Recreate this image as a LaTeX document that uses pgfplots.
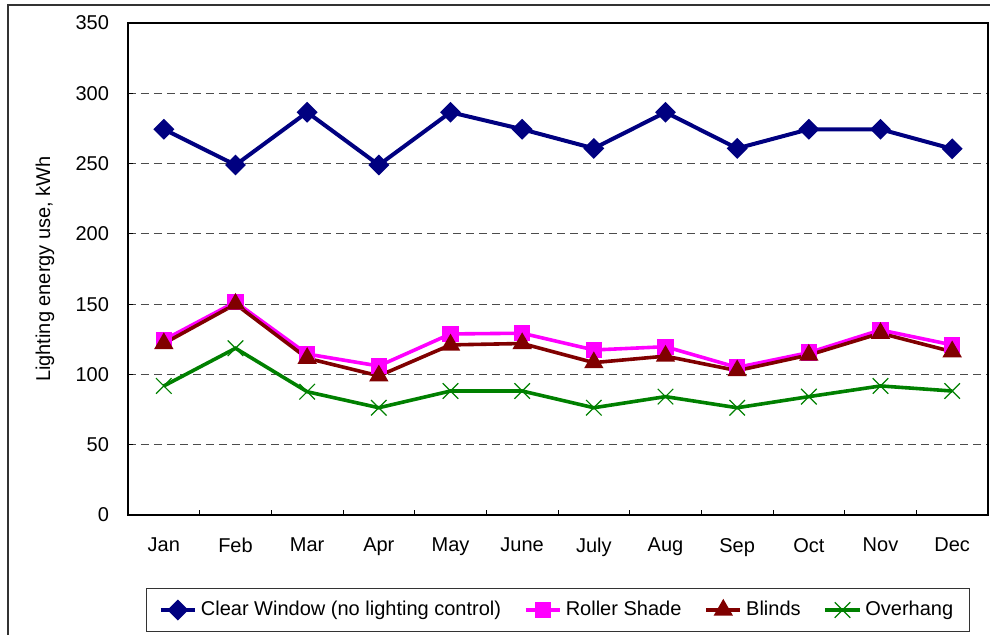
\documentclass[border=0pt]{standalone}
\usepackage{fontspec}
\setmainfont{Liberation Sans}
\usepackage{pgfplots}
\pgfplotsset{compat=1.18}
\definecolor{cwblue}{RGB}{0,0,128}
\definecolor{rsmag}{RGB}{255,0,255}
\definecolor{bldred}{RGB}{128,0,0}
\definecolor{ohgreen}{RGB}{0,128,0}
\begin{document}
\begin{tikzpicture}
\fontsize{10}{12}\selectfont
% outer chart frame (only left and top edges are inside the picture)
\useasboundingbox (-64pt,-60pt) rectangle (431pt,257.5pt);
\draw[black!80, line width=0.6pt] (-60pt,-61pt) -- (-60pt,255pt) -- (432pt,255pt);
\begin{axis}[at={(0,0)}, anchor=south west, scale only axis,
  width=430pt, height=246pt,
  xmin=-0.5, xmax=11.5, ymin=0, ymax=350,
  xtick={0,...,11},
  xticklabels={Jan,Feb,Mar,Apr,May,June,July,Aug,Sep,Oct,Nov,Dec},
  minor xtick={-0.5,0.5,...,11.5},
  major x tick style={draw=none},
  minor x tick style={black, line width=0.5pt},
  minor tick length=2.5pt,
  ytick={0,50,...,350},
  tick align=inside, major tick length=2.5pt,
  xtick pos=bottom, ytick pos=left,
  ymajorgrids, grid style={black!70, dash pattern=on 4pt off 2.5pt, line width=0.5pt},
  axis line style={line width=0.7pt},
  tick style={black, line width=0.5pt},
  /pgf/number format/assume math mode=true,
  tick label style={font=\fontsize{10}{12}\selectfont},
  yticklabel style={xshift=-6pt},
  xticklabel style={yshift=-8pt},
  ylabel={Lighting energy use, kWh},
  ylabel style={at={(axis description cs:-0.0965,0.5)}, anchor=center, font=\fontsize{10}{12}\selectfont},
  legend columns=4,
  legend style={at={(0.5,-0.148)}, anchor=north, draw=black!80, line width=0.5pt,
    font=\fontsize{10}{12}\selectfont, inner xsep=6pt, inner ysep=4.5pt,
    /tikz/every even column/.append style={column sep=9.5pt}},
  legend cell align=left,
  legend image post style={sharp plot},
]
\addplot[cwblue, line width=2pt, mark=square*, mark size=2.7pt,
  mark options={rotate=45, solid}] coordinates {
(0,274.4) (1,249) (2,286.5) (3,249) (4,286.5) (5,274.4)
(6,260.8) (7,286.5) (8,260.8) (9,274.4) (10,274.4) (11,260.5)};
\addlegendentry{Clear Window (no lighting control)}
\addplot[rsmag, line width=1.8pt, mark=square*, mark size=3.2pt] coordinates {
(0,124.5) (1,151.5) (2,114.5) (3,106) (4,128.8) (5,129.3)
(6,117.4) (7,119.7) (8,105) (9,115.5) (10,131.6) (11,121)};
\addlegendentry{Roller Shade}
\addplot[bldred, line width=1.8pt, mark=triangle*, mark size=3.8pt] coordinates {
(0,122) (1,150) (2,111.5) (3,99) (4,121) (5,122)
(6,108.4) (7,113) (8,102.7) (9,113.8) (10,129.3) (11,116.2)};
\addlegendentry{Blinds}
\addplot[ohgreen, line width=1.8pt, mark=x, mark size=5.5pt,
  mark options={line width=0.6pt}] coordinates {
(0,91.8) (1,118.6) (2,87.7) (3,76.3) (4,88.2) (5,88.2)
(6,76.3) (7,84.2) (8,76.3) (9,84.2) (10,91.8) (11,88.2)};
\addlegendentry{Overhang}
\end{axis}
\end{tikzpicture}
\end{document}
